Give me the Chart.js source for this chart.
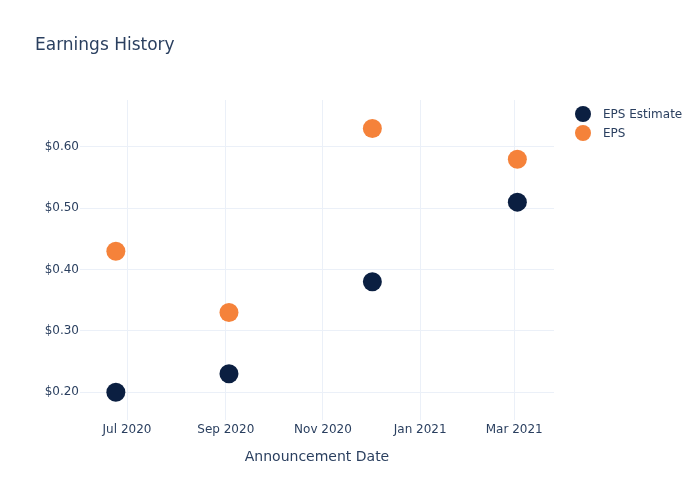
<!DOCTYPE html>
<html>
<head>
<meta charset="utf-8">
<script src="https://cdn.jsdelivr.net/npm/chart.js@4"></script>
<style>
  html, body { margin: 0; padding: 0; background: #fff; }
  #wrap { width: 700px; height: 500px; }
</style>
</head>
<body>
<div id="wrap"><canvas id="myChart" width="700" height="500"></canvas></div>
<script>
// data
var dates = ['2020-06-24', '2020-09-03', '2020-12-02', '2021-03-03'];
var epsEstimate = [0.20, 0.23, 0.38, 0.51];
var eps = [0.43, 0.33, 0.63, 0.58];
var tickDates = ['2020-07-01', '2020-09-01', '2020-11-01', '2021-01-01', '2021-03-01'];
var tickLabels = ['Jul 2020', 'Sep 2020', 'Nov 2020', 'Jan 2021', 'Mar 2021'];
var yTicks = [0.2, 0.3, 0.4, 0.5, 0.6];

var navy = '#0b1f41';
var orange = '#f5823a';
var textColor = '#2a3f5f';
var gridColor = '#ebf0f8';
var fontFamily = '"DejaVu Sans", "Open Sans", Verdana, sans-serif';

function toTime(s) { return Date.parse(s + 'T00:00:00Z'); }

function points(vals) {
    return vals.map(function (v, i) { return { x: toTime(dates[i]), y: v }; });
}

// title and legend drawn by hand, plotly style
var extras = {
    id: 'extras',
    afterDraw: function (chart) {
        var c = chart.ctx;
        c.save();
        c.fillStyle = textColor;
        c.font = '17px ' + fontFamily;
        c.textBaseline = 'middle';
        c.textAlign = 'left';
        c.fillText('Earnings History', 35, 46);

        var items = [['EPS Estimate', navy], ['EPS', orange]];
        items.forEach(function (it, i) {
            var y = 114 + i * 19;
            c.beginPath();
            c.arc(583, y, 8, 0, Math.PI * 2);
            c.fillStyle = it[1];
            c.fill();
            c.fillStyle = textColor;
            c.font = '12px ' + fontFamily;
            c.fillText(it[0], 603, y + 1);
        });
        c.restore();
    }
};

var ctx = document.getElementById('myChart').getContext('2d');
var myChart = new Chart(ctx, {
    type: 'scatter',
    data: {
        datasets: [{
            label: 'EPS Estimate',
            data: points(epsEstimate),
            backgroundColor: navy,
            borderColor: navy,
            pointBorderColor: navy,
            pointBorderWidth: 0,
            pointRadius: 9.5,
            pointHoverRadius: 9.5
        }, {
            label: 'EPS',
            data: points(eps),
            backgroundColor: orange,
            borderColor: orange,
            pointBorderColor: orange,
            pointBorderWidth: 0,
            pointRadius: 9.5,
            pointHoverRadius: 9.5
        }]
    },
    options: {
        responsive: false,
        animation: false,
        layout: {
            padding: { left: 0, right: 146, top: 100, bottom: 0 }
        },
        plugins: {
            legend: { display: false },
            title: { display: false },
            tooltip: { enabled: false }
        },
        scales: {
            x: {
                type: 'linear',
                min: Date.parse('2020-06-01T12:00:00Z'),
                max: Date.parse('2021-03-26T00:00:00Z'),
                afterBuildTicks: function (scale) {
                    scale.ticks = tickDates.map(function (d) { return { value: toTime(d) }; });
                },
                afterFit: function (scale) { scale.height = 80; },
                grid: { color: gridColor, drawTicks: false, lineWidth: 1 },
                border: { display: false },
                ticks: {
                    color: textColor,
                    font: { family: fontFamily, size: 12 },
                    padding: 3,
                    maxRotation: 0,
                    autoSkip: false,
                    callback: function (value) {
                        var i = tickDates.map(toTime).indexOf(value);
                        return i >= 0 ? tickLabels[i] : '';
                    }
                },
                title: {
                    display: true,
                    text: 'Announcement Date',
                    color: textColor,
                    font: { family: fontFamily, size: 14 },
                    padding: { top: 4, bottom: 34 }
                }
            },
            y: {
                min: 0.1546,
                max: 0.6766,
                afterBuildTicks: function (scale) {
                    scale.ticks = yTicks.map(function (v) { return { value: v }; });
                },
                afterFit: function (scale) { scale.width = 80; },
                grid: { color: gridColor, drawTicks: false, lineWidth: 1 },
                border: { display: false },
                ticks: {
                    color: textColor,
                    font: { family: fontFamily, size: 12 },
                    padding: 1,
                    callback: function (value) { return '$' + value.toFixed(2); }
                }
            }
        }
    },
    plugins: [extras]
});
</script>
</body>
</html>
